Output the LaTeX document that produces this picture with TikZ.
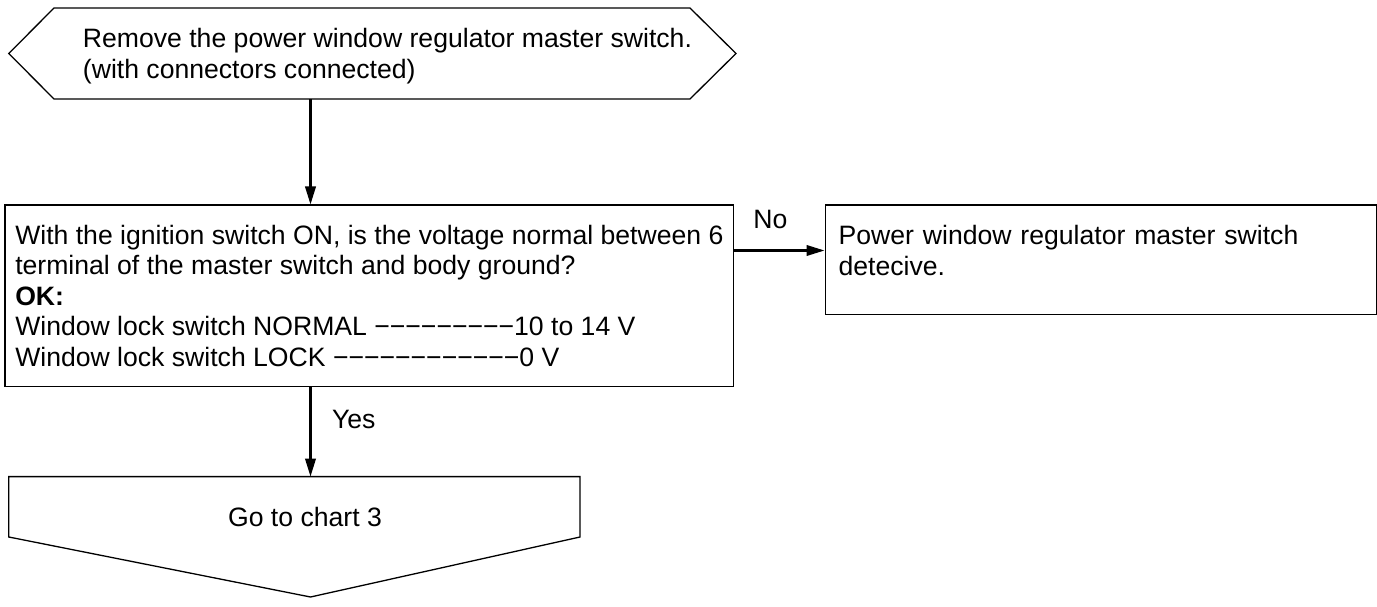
\documentclass[tikz,border=0pt]{standalone}
\usepackage{fontspec}
\setmainfont{Liberation Sans}
\usetikzlibrary{arrows.meta}

\begin{document}
\begin{tikzpicture}[x=1pt, y=-1pt, >={Triangle[length=18pt,width=10.5pt]},
    font=\fontsize{26.6}{30.5}\selectfont,
    outline/.style={line width=1.3pt},
    box/.style={draw, line width=1.3pt, align=left, inner sep=0pt},
    flow/.style={->, line width=2.2pt},
    lbl/.style={inner sep=0pt}]
    \useasboundingbox (0,0) rectangle (1377,607);
    % start (hexagon)
    \draw[outline] (8.8,53.5) -- (54,8) -- (690,8) -- (736,53.5) -- (690,99) -- (54,99) -- cycle;
    \node[lbl, align=left] (remove) at (387.5,56) {Remove the power window regulator master switch.\\(with connectors connected)};
    \coordinate (removeout) at (310.5,99);
    % check
    \node[box, anchor=north west, minimum width=728.6pt, minimum height=181.5pt] (check) at (4.4,204.5)
        {With the ignition switch ON, is the voltage normal between 6\\
         terminal of the master switch and body ground?\\
         \textbf{OK:}\\
         Window lock switch NORMAL −−−−−−−−−10 to 14 V\\
         Window lock switch LOCK −−−−−−−−−−−−0 V};
    % result on No
    \node[box, anchor=north west, text width=524pt, inner xsep=13.5pt, minimum height=109pt] (result) at (824.5,204.5)
        {Power window regulator master switch\\detecive.\rule[-19pt]{0pt}{19pt}};
    % end (go to)
    \draw[outline] (8.8,476.6) -- (580,476.6) -- (580,537) -- (310.5,597) -- (8.8,537) -- cycle;
    \node[lbl] (goto) at (305,517.3) {Go to chart 3};
    \coordinate (gotoin) at (310.5,476.6);
    % connectors
    \coordinate (noline) at (0,250.5);
    \draw[flow] (removeout) -- (removeout |- check.north);
    \draw[flow] (check.east |- noline) -- (result.west |- noline)
        node[lbl, midway, above=20.5pt, xshift=-9pt] {No};
    \draw[flow] (check.south -| removeout) -- (gotoin)
        node[lbl, pos=0.355, right=20.5pt] {Yes};
\end{tikzpicture}
\end{document}
